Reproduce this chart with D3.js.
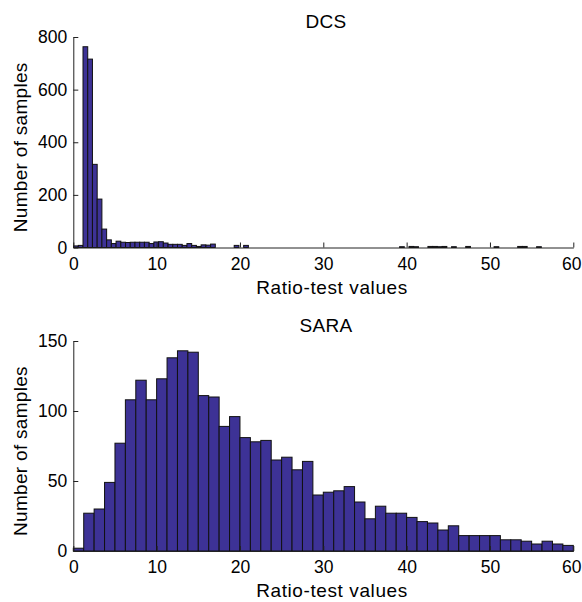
<!DOCTYPE html>
<html>
<head>
<meta charset="utf-8">
<script src="https://cdn.jsdelivr.net/npm/d3@7"></script>
<style>
  body { margin: 0; background: #fff; }
  svg text { font-family: "Liberation Sans", Arial, sans-serif; fill: #000; }
  .axis path, .axis line { stroke: #222; }
</style>
</head>
<body>
<div id="chart-area"></div>
<script>
// histogram counts
var dcsCounts = [
  6, 8, 763, 716, 316, 184, 70, 29, 15, 24,
  20, 19, 20, 20, 20, 20, 15, 21, 22, 17,
  12, 12, 12, 8, 15, 8, 4, 10, 9, 13,
  0, 0, 0, 0, 8, 0, 8, 0, 0, 0,
  0, 0, 0, 0, 0, 0, 0, 0, 0, 0,
  0, 0, 0, 0, 0, 0, 0, 0, 0, 0,
  0, 0, 0, 0, 0, 0, 0, 0, 0, 3,
  0, 4, 3, 0, 0, 4, 4, 3, 4, 0,
  3, 0, 0, 4, 0, 0, 0, 0, 0, 3,
  0, 0, 0, 0, 4, 4, 0, 0, 3, 0
];
var dcsBinStart = 0.03, dcsBinWidth = 0.567;

var saraCounts = [
  2, 27, 30, 49, 77, 108, 122, 108, 123, 138,
  143, 142, 111, 110, 89, 96, 81, 78, 79, 65,
  67, 58, 64, 40, 42, 43, 46, 35, 23, 32,
  27, 27, 24, 21, 20, 15, 18, 11, 11, 11,
  11, 8, 8, 7, 5, 7, 5, 4
];
var saraBinStart = 0, saraBinWidth = 1.25;

var xTicks = [0, 10, 20, 30, 40, 50, 60];
var dcsYTicks = [0, 200, 400, 600, 800];
var saraYTicks = [0, 50, 100, 150];

var width = 582, height = 602;
var left = 73.3, right = 573.3;

var svg = d3.select("#chart-area")
  .append("svg")
    .attr("width", width)
    .attr("height", height);

function drawHist(opts) {
  var x = d3.scaleLinear().domain([0, 60]).range([left, right]);
  var y = d3.scaleLinear().domain(opts.yDomain).range([opts.bottom, opts.top]);

  var bins = opts.counts.map(function(c, i) {
    var x0 = opts.binStart + i * opts.binWidth;
    return { x0: Math.max(0, x0), x1: x0 + opts.binWidth, n: c };
  });

  svg.append("g").selectAll("rect")
    .data(bins).enter()
    .append("rect")
      .attr("x", function(d) { return x(d.x0); })
      .attr("y", function(d) { return y(d.n); })
      .attr("width", function(d) { return x(d.x1) - x(d.x0); })
      .attr("height", function(d) { return y(0) - y(d.n); })
      .attr("fill", "#3d3296")
      .attr("stroke", "#111")
      .attr("stroke-width", 1);

  var xAxisCall = d3.axisBottom(x)
    .tickValues(xTicks)
    .tickSizeInner(-5)
    .tickSizeOuter(0)
    .tickPadding(10);

  svg.append("g")
    .attr("class", "x axis")
    .attr("transform", "translate(0," + opts.bottom + ")")
    .call(xAxisCall)
    .selectAll("text")
      .attr("font-size", "17.5px")
      .attr("dx", function(d) { return d === 60 ? -2 : 0; });

  var yAxisCall = d3.axisLeft(y)
    .tickValues(opts.yTicks)
    .tickSizeInner(-5)
    .tickSizeOuter(0)
    .tickPadding(6);

  svg.append("g")
    .attr("class", "y axis")
    .attr("transform", "translate(" + left + ",0)")
    .call(yAxisCall)
    .selectAll("text")
      .attr("font-size", "17.5px");

  svg.selectAll(".axis").attr("font-family", null);

  // title
  svg.append("text")
    .attr("x", 326)
    .attr("y", opts.top - 9)
    .attr("font-size", "19px")
    .attr("letter-spacing", "0.3px")
    .attr("text-anchor", "middle")
    .text(opts.title);

  // X label
  svg.append("text")
    .attr("x", 332)
    .attr("y", opts.bottom + 46)
    .attr("font-size", "19px")
    .attr("letter-spacing", "0.6px")
    .attr("text-anchor", "middle")
    .text("Ratio-test values");

  // Y label
  svg.append("text")
    .attr("transform", "translate(27," + ((opts.top + opts.bottom) / 2 + 5) + ") rotate(-90)")
    .attr("font-size", "19px")
    .attr("letter-spacing", "0.3px")
    .attr("text-anchor", "middle")
    .text("Number of samples");
}

drawHist({
  title: "DCS",
  counts: dcsCounts, binStart: dcsBinStart, binWidth: dcsBinWidth,
  yDomain: [0, 800], yTicks: dcsYTicks,
  top: 37, bottom: 247.5
});

drawHist({
  title: "SARA",
  counts: saraCounts, binStart: saraBinStart, binWidth: saraBinWidth,
  yDomain: [0, 150], yTicks: saraYTicks,
  top: 341, bottom: 551
});
</script>
</body>
</html>
